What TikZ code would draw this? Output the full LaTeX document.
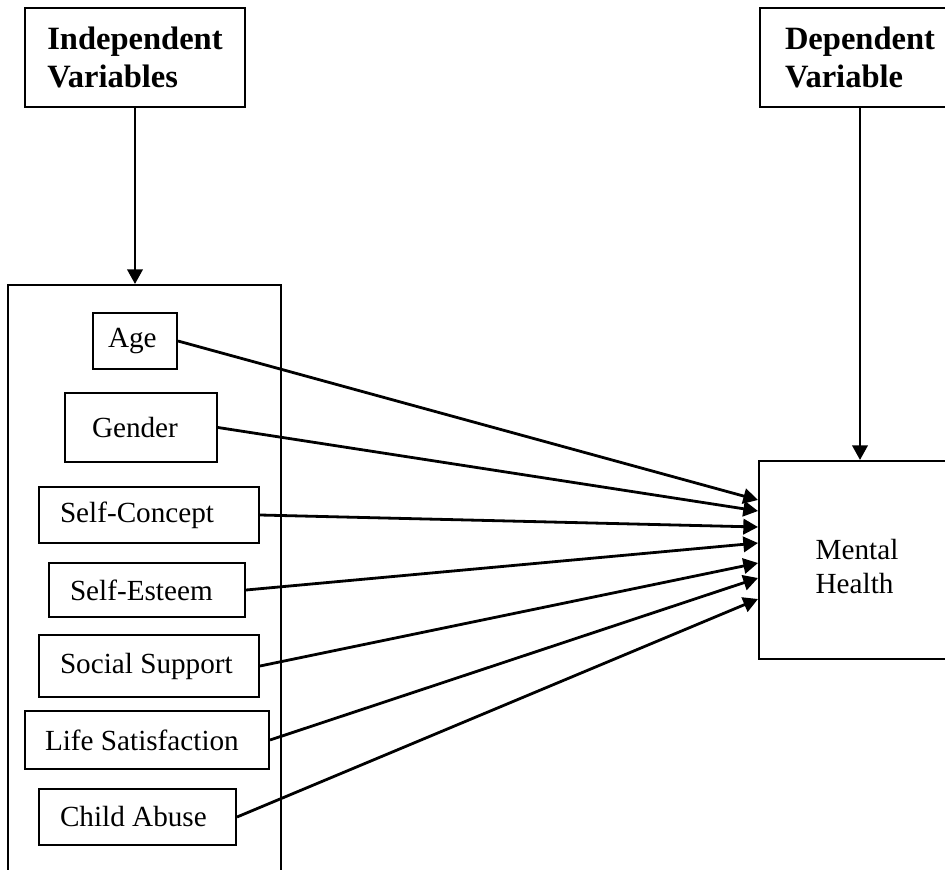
\documentclass[tikz,border=0pt]{standalone}
\usepackage{fontspec}
\setmainfont{Liberation Serif}
\usepackage{tikz}
\usetikzlibrary{arrows.meta,positioning,calc}

\begin{document}
\begin{tikzpicture}[
  x=0.75pt, y=-0.75pt,
  vbox/.style = {
    rectangle, draw=black, line width=1.5pt, inner sep=0pt,
    align=flush left, font=\fontsize{21.9}{25.5}\selectfont
  },
  headbox/.style = {
    vbox, font=\fontsize{24.4}{28.5}\selectfont\bfseries
  },
  arr/.style = {-{Triangle[length=11pt,width=11.5pt]}, line width=2.1pt, black}
]
  \useasboundingbox (0,0) rectangle (945,870);
  \clip (0,0) rectangle (945,870);

  % headers
  \node[headbox, minimum width=165pt, minimum height=74.25pt] (indep) at (135,57.5)
    {Independent\\Variables};
  \node[headbox, minimum width=150pt, minimum height=74.25pt] (dep) at (860,57.5)
    {Dependent\\Variable};

  % group of independent variables
  \node[vbox, minimum width=204.75pt, minimum height=461.25pt] (ivframe) at (144.5,592.5) {};
  \node[vbox, minimum width=63pt,     minimum height=42pt,    text width=40.5pt]   (age)    at (135,341)   {Age};
  \node[vbox, minimum width=114pt,    minimum height=51.75pt, text width=73.5pt]   (gender) at (141,427.5) {Gender};
  \node[vbox, minimum width=165pt,    minimum height=42pt,    text width=133.5pt]  (sconc)  at (149,515)   {Self-Concept};
  \node[vbox, minimum width=147pt,    minimum height=40.5pt,  text width=115.5pt]  (sest)   at (147,590)   {Self-Esteem};
  \node[vbox, minimum width=165pt,    minimum height=46.5pt,  text width=133.5pt]  (ssup)   at (149,666)   {Social Support};
  \node[vbox, minimum width=183pt,    minimum height=43.5pt,  text width=153pt]    (lsat)   at (147,740)   {Life Satisfaction};
  \node[vbox, minimum width=147.75pt, minimum height=42pt,    text width=116.25pt] (cabuse) at (137.5,817) {Child Abuse};

  % dependent variable
  \node[vbox, minimum width=151.5pt, minimum height=148.5pt] (mh) at (860,560) {};
  \node[vbox, draw=none] (mhtext) at ($(mh.center)+(-3,7)$) {Mental\\Health};

  % arrow ends on the left side of Mental Health
  \coordinate (in1) at ($(mh.north west)+(0,40)$);
  \coordinate (in2) at ($(mh.north west)+(0,51)$);
  \coordinate (in3) at ($(mh.north west)+(0,67)$);
  \coordinate (in4) at ($(mh.north west)+(0,83)$);
  \coordinate (in5) at ($(mh.north west)+(0,103)$);
  \coordinate (in6) at ($(mh.north west)+(0,118)$);
  \coordinate (in7) at ($(mh.north west)+(0,139)$);

  \draw[arr] (indep.south) -- (indep.south |- ivframe.north);
  \draw[arr] (dep.south)   -- (mh.north);

  \draw[arr] (age.east)    -- (in1);
  \draw[arr] (gender.east) -- (in2);
  \draw[arr] (sconc.east)  -- (in3);
  \draw[arr] (sest.east)   -- (in4);
  \draw[arr] (ssup.east)   -- (in5);
  \draw[arr] (lsat.east)   -- (in6);
  \draw[arr] (cabuse.east) -- (in7);
\end{tikzpicture}
\end{document}
